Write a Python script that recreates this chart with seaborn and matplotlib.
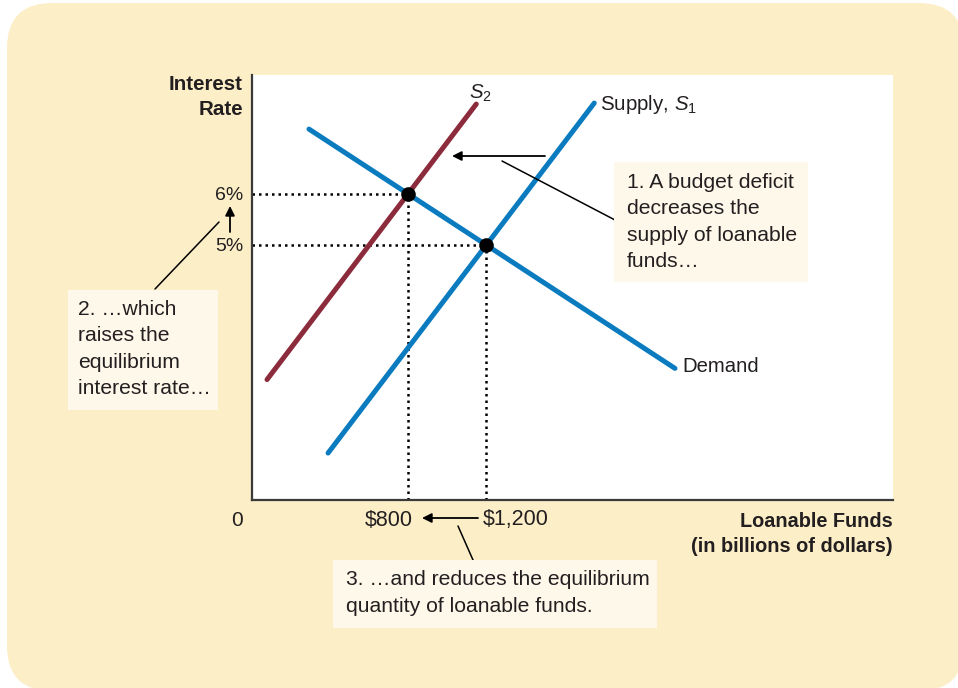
import pandas as pd
import seaborn as sns
import matplotlib.pyplot as plt
from matplotlib.patches import FancyBboxPatch, Rectangle
from matplotlib.transforms import IdentityTransform

# curve end points: loanable funds (billions of $) and interest rate (%)
supply1_qty = [390, 1755]
supply1_rate = [0.92, 7.78]
supply2_qty = [77, 1150]
supply2_rate = [2.36, 7.76]
demand_qty = [292, 2169]
demand_rate = [7.27, 2.58]

# equilibria: before (S1) and after (S2) the deficit
eq_qty = [800, 1200]
eq_rate = [6, 5]
eq_qty_labels = ["$800", "$1,200"]
eq_rate_labels = ["6%", "5%"]

W, H = 958, 688
TXT = "#231f20"
BOX = "#fdf8ea"


def fp(x, y):
    # pixel position (from top-left) -> figure fraction
    return (x / W, 1 - y / H)


sns.set_theme(style="white")
plt.rcParams["font.family"] = ["Liberation Sans", "DejaVu Sans"]
plt.rcParams["mathtext.fontset"] = "custom"
plt.rcParams["mathtext.rm"] = "Liberation Sans"
plt.rcParams["mathtext.it"] = "Liberation Sans:italic"

fig = plt.figure(figsize=(W / 100, H / 100), dpi=100)
fig.patch.set_facecolor("white")

# tan rounded background panel
panel = FancyBboxPatch((7, -3), 957, H - 3 + 3,
                       boxstyle="round,pad=0,rounding_size=45",
                       facecolor="#fcefc8", edgecolor="none",
                       transform=IdentityTransform(), zorder=-10)
fig.add_artist(panel)

ax = fig.add_axes([252 / W, 1 - 500 / H, (893 - 252) / W, (500 - 75) / H])
ax.set_facecolor("white")

df = pd.concat([
    pd.DataFrame({"curve": "S1", "qty": supply1_qty, "rate": supply1_rate}),
    pd.DataFrame({"curve": "S2", "qty": supply2_qty, "rate": supply2_rate}),
    pd.DataFrame({"curve": "D", "qty": demand_qty, "rate": demand_rate}),
])
palette = {"S1": "#0b7bc0", "S2": "#8c2b3b", "D": "#0b7bc0"}
sns.lineplot(data=df, x="qty", y="rate", hue="curve", palette=palette,
             linewidth=3.6, legend=False, estimator=None, sort=False,
             solid_capstyle="round", ax=ax, zorder=3)

# dotted guides to the axes
for q, r in zip(eq_qty, eq_rate):
    ax.plot([0, q], [r, r], color="black", lw=1.8, ls=(0, (1, 1.6)), zorder=2)
    ax.plot([q, q], [0, r], color="black", lw=1.8, ls=(0, (1, 1.6)), zorder=2)

sns.scatterplot(x=eq_qty, y=eq_rate, color="black", s=110, linewidth=0,
                zorder=5, ax=ax)

ax.set_xlim(0, 3287)
ax.set_ylim(0, 8.33)
ax.set_xlabel("")
ax.set_ylabel("")
ax.set_xticks([])
ax.set_yticks(eq_rate, eq_rate_labels)
ax.tick_params(axis="y", length=0, pad=6, labelsize=14, labelcolor=TXT)
sns.despine(ax=ax)
for s in ["left", "bottom"]:
    ax.spines[s].set_color("#3a3a3a")
    ax.spines[s].set_linewidth(1.6)

# curve labels
ax.text(1785, 7.75, r"Supply, $S_1$", ha="left", va="center", size=14.8, color=TXT)
ax.text(1169, 7.98, r"$S_2$", ha="center", va="center", size=14.8, color=TXT)
ax.text(2205, 2.61, "Demand", ha="left", va="center", size=14.6, color=TXT)

# axis titles and x values
fig.text(*fp(243, 97), "Interest\nRate", ha="right", va="center",
         weight="bold", size=14.8, color=TXT, linespacing=1.45)
fig.text(*fp(893, 534), "Loanable Funds\n(in billions of dollars)", ha="right",
         va="center", weight="bold", size=14.3, color=TXT, linespacing=1.45)
fig.text(*fp(237, 520), "0", ha="center", va="center", size=15, color=TXT)
fig.text(*fp(413, 520), eq_qty_labels[0], ha="right", va="center", size=15.5, color=TXT)
fig.text(*fp(483, 520), eq_qty_labels[1], ha="left", va="center", size=15.5, color=TXT)

# note boxes
notes = [
    ((614, 162, 808, 282), (627, 222),
     "1. A budget deficit\ndecreases the\nsupply of loanable\nfunds\u2026"),
    ((68, 290, 218, 410), (78, 349),
     "2. \u2026which\nraises the\nequilibrium\ninterest rate\u2026"),
    ((333, 560, 657, 628), (346, 593),
     "3. \u2026and reduces the equilibrium\nquantity of loanable funds."),
]
for (x0, y0, x1, y1), (tx, ty), label in notes:
    fig.add_artist(Rectangle(fp(x0, y1), (x1 - x0) / W, (y1 - y0) / H,
                             transform=fig.transFigure, facecolor=BOX,
                             edgecolor="none", zorder=2))
    fig.text(*fp(tx, ty), label, ha="left", va="center", size=15.2,
             color=TXT, linespacing=1.5, zorder=4)

# leader lines and arrows
plain = dict(arrowstyle="-", color="black", lw=1.1, shrinkA=0, shrinkB=0)
head = dict(arrowstyle="-|>", color="black", lw=1.3, shrinkA=0, shrinkB=0,
            mutation_scale=14)
for start, end, props in [
    ((615, 220), (502, 161), plain),
    ((545, 156), (452, 156), head),
    ((155, 289), (219, 222), plain),
    ((230, 232), (230, 206), head),
    ((478, 518), (422, 518), head),
    ((473, 560), (458, 526), plain),
]:
    ax.annotate("", xy=fp(*end), xytext=fp(*start), xycoords="figure fraction",
                textcoords="figure fraction", arrowprops=props,
                annotation_clip=False)

fig.savefig("out.png", dpi=100)
